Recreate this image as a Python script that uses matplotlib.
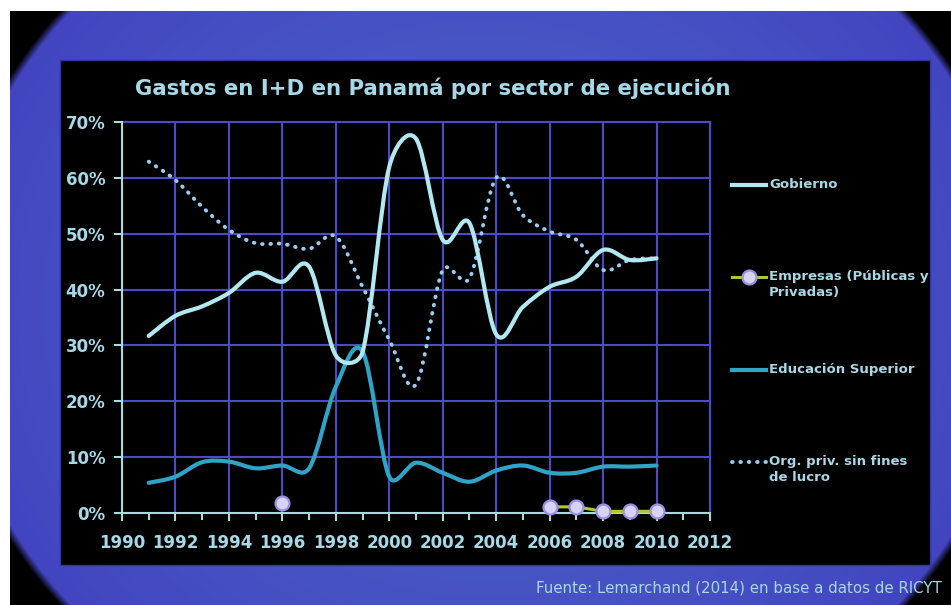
import numpy as np
import matplotlib
matplotlib.use("Agg")
import matplotlib.pyplot as plt
from matplotlib.path import Path
from matplotlib.patches import PathPatch, Rectangle
from matplotlib.lines import Line2D

# ---- data: share of R&D spending in Panama by performing sector ----
years = list(range(1991, 2011))
gobierno = [31.7, 35.3, 37.0, 39.4, 43.0, 41.4, 44.1, 28.2, 28.8, 62.0,
            67.0, 48.9, 51.9, 32.0, 36.9, 40.5, 42.3, 47.1, 45.3, 45.6]
empresas = [np.nan, np.nan, np.nan, np.nan, np.nan, 1.8, np.nan, np.nan, np.nan, np.nan,
            np.nan, np.nan, np.nan, np.nan, np.nan, 1.1, 1.1, 0.3, 0.3, 0.3]
educacion = [5.4, 6.5, 9.1, 9.2, 8.0, 8.5, 8.0, 22.6, 28.9, 6.5,
             9.0, 7.2, 5.6, 7.6, 8.5, 7.2, 7.2, 8.3, 8.3, 8.5]
org_priv = [62.9, 59.6, 54.8, 50.7, 48.3, 48.2, 47.3, 49.5, 40.5, 31.0,
            23.0, 43.5, 42.0, 60.0, 53.3, 50.4, 48.9, 43.5, 45.3, 45.6]

series_labels = ["Gobierno", "Empresas (Públicas y\nPrivadas)",
                 "Educación Superior", "Org. priv. sin fines\nde lucro"]
title = "Gastos en I+D en Panamá por sector de ejecución"
source = "Fuente: Lemarchand (2014) en base a datos de RICYT"
x_ticks = list(range(1990, 2013, 2))
y_ticks = list(range(0, 71, 10))

# ---- colours ----
C_TEXT = "#A6D8E6"
C_GOB = "#B2E8F2"
C_EDU = "#2FA4C8"
C_ORG = "#98CCF0"
C_EMP_LINE = "#A8CC28"
C_EMP_FACE = "#D6D2F8"
C_EMP_EDGE = "#9A90E2"
C_GRID = "#4B4BC8"
C_AXIS = "#A8DCDC"
DOTS = (0, (0.15, 2.0))

W, H = 951, 605
fig = plt.figure(figsize=(W / 100, H / 100), dpi=100, facecolor="white")

# ---- blue backdrop with dark rounded corners ----
bg = fig.add_axes([10 / W, 0, (W - 10) / W, (H - 11) / H], zorder=-10)
bg.set_axis_off()
gx, gy = np.meshgrid(np.arange(10, W) + 0.5, np.arange(11, H) + 0.5)
cx, cy, ra, rb = 484.0, 308.0, 540.0, 472.0
r = np.sqrt(((gx - cx) / ra) ** 2 + ((gy - cy) / rb) ** 2)
center = np.array([74, 92, 198]) / 255.0
edge = np.array([66, 68, 192]) / 255.0
t = np.clip(r, 0, 1)[..., None] ** 2
img = center * (1 - t) + edge * t
fade = np.clip((1.006 - r) / 0.016, 0, 1)[..., None]
img = img * fade
bg.imshow(img, extent=[0, 1, 0, 1], aspect="auto", origin="upper",
          interpolation="bilinear")
bg.set_xlim(0, 1)
bg.set_ylim(0, 1)

# ---- black chart panel ----
fig.patches.append(Rectangle((60 / W, (H - 565) / H), 870 / W, 505 / H,
                             transform=fig.transFigure, facecolor="black",
                             edgecolor="#34349A", lw=1.0, zorder=-5))

# ---- plot area ----
AX_W, AX_H = 588, 391
ax = fig.add_axes([122 / W, 92 / H, AX_W / W, AX_H / H])
ax.set_facecolor("none")
ax.set_xlim(1990, 2012)
ax.set_ylim(0, 70)
ax.set_xticks(x_ticks)
ax.set_xticks(range(1990, 2013), minor=True)
ax.set_yticks(y_ticks)
ax.set_yticklabels([f"{v}%" for v in y_ticks])
ax.grid(True, color=C_GRID, lw=1.5, zorder=0)
for side in ("top", "right"):
    ax.spines[side].set_color(C_GRID)
    ax.spines[side].set_linewidth(1.5)
for side in ("left", "bottom"):
    ax.spines[side].set_color(C_AXIS)
    ax.spines[side].set_linewidth(1.5)
    ax.spines[side].set_zorder(3)
ax.tick_params(axis="both", which="both", direction="out", color=C_AXIS,
               width=1.5, labelcolor=C_TEXT)
ax.tick_params(axis="x", which="major", length=6, pad=9, labelsize=12)
ax.tick_params(axis="x", which="minor", length=5)
ax.tick_params(axis="y", length=6, pad=6, labelsize=12)
for lab in ax.get_xticklabels() + ax.get_yticklabels():
    lab.set_fontweight("bold")

# pixel size of one data unit, used so smoothing behaves as on screen
SX = AX_W / 22.0
SY = AX_H / 70.0


def smooth_path(xs, ys, limit=0.5):
    """Smoothed Bezier path through the points (tangents limited per segment)."""
    p = np.column_stack([np.asarray(xs, float) * SX, np.asarray(ys, float) * SY])
    n = len(p)
    tang = np.array([(p[min(i + 1, n - 1)] - p[max(i - 1, 0)]) / 6.0 for i in range(n)])
    verts = [p[0]]
    codes = [Path.MOVETO]
    for i in range(n - 1):
        seg = np.linalg.norm(p[i + 1] - p[i])
        t1, t2 = tang[i], tang[i + 1]
        n1, n2 = np.linalg.norm(t1), np.linalg.norm(t2)
        s1 = min(1.0, limit * seg / n1) if n1 > 0 else 0.0
        s2 = min(1.0, limit * seg / n2) if n2 > 0 else 0.0
        verts += [p[i] + t1 * s1, p[i + 1] - t2 * s2, p[i + 1]]
        codes += [Path.CURVE4] * 3
    v = np.array(verts) / np.array([SX, SY])
    return Path(v, codes)


ax.add_patch(PathPatch(smooth_path(years, org_priv), fill=False, edgecolor=C_ORG,
                       lw=2.8, linestyle=DOTS, capstyle="round", zorder=4))
ax.add_patch(PathPatch(smooth_path(years, educacion), fill=False, edgecolor=C_EDU,
                       lw=3.0, capstyle="round", joinstyle="round", zorder=5))
ax.add_patch(PathPatch(smooth_path(years, gobierno), fill=False, edgecolor=C_GOB,
                       lw=3.0, capstyle="round", joinstyle="round", zorder=6))
ax.plot(years, empresas, color=C_EMP_LINE, lw=2.2, marker="o", markersize=10,
        markerfacecolor=C_EMP_FACE, markeredgecolor=C_EMP_EDGE, markeredgewidth=1.6,
        zorder=7, clip_on=False)

# ---- title and source ----
fig.text(433 / W, 1 - 88 / H, title, ha="center", va="center", fontsize=15.3,
         fontweight="bold", color=C_TEXT)
fig.text(942 / W, 1 - 588 / H, source, ha="right", va="center", fontsize=10.8,
         color=C_TEXT)

# ---- legend ----
leg_x0, leg_x1, leg_tx = 732 / W, 766 / W, 769 / W
entries = [
    (185, dict(color=C_GOB, lw=3.0)),
    (277, dict(color=C_EMP_LINE, lw=2.2)),
    (370, dict(color=C_EDU, lw=3.0)),
    (462, dict(color=C_ORG, lw=2.8, linestyle=DOTS, dash_capstyle="round")),
]
for (ypix, style), label in zip(entries, series_labels):
    yf = 1 - ypix / H
    fig.add_artist(Line2D([leg_x0, leg_x1], [yf, yf], transform=fig.transFigure,
                          **style))
    fig.text(leg_tx, yf + 7 / H, label, ha="left", va="top", fontsize=9.5,
             fontweight="bold", color=C_TEXT, linespacing=1.3)
yf = 1 - 277 / H
fig.add_artist(Line2D([(leg_x0 + leg_x1) / 2], [yf], transform=fig.transFigure,
                      marker="o", markersize=10, markerfacecolor=C_EMP_FACE,
                      markeredgecolor=C_EMP_EDGE, markeredgewidth=1.6, lw=0))

fig.savefig("out.png", dpi=100, facecolor="white")
